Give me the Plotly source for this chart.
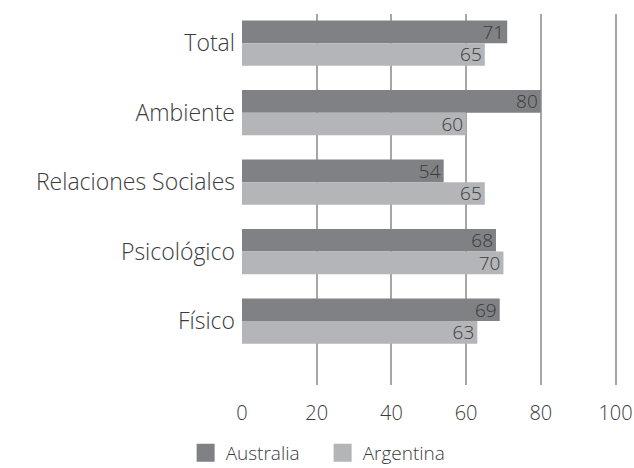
import plotly.graph_objects as go

categories = ["Total", "Ambiente", "Relaciones Sociales", "Psicológico", "Físico"]
australia = [71, 80, 54, 68, 69]
argentina = [65, 60, 65, 70, 63]
x_ticks = [0, 20, 40, 60, 80, 100]

FONT = "Open Sans"
TEXT = "#3b3b3b"
series = [("Australia", australia, "#808184"),
          ("Argentina", argentina, "#b4b5b8")]

fig = go.Figure()
for name, vals, color in series:
    fig.add_trace(go.Bar(
        y=categories, x=vals, name=name, orientation="h", showlegend=False,
        marker=dict(color=color, line=dict(width=0)),
        text=[str(v) for v in vals], textposition="inside", textangle=0,
        insidetextanchor="end", constraintext="none",
        textfont=dict(family=FONT, size=19, color=TEXT, weight=300),
    ))
# square legend keys
for name, vals, color in series:
    fig.add_trace(go.Scatter(
        x=[None], y=[None], name=name, mode="markers", showlegend=True,
        marker=dict(symbol="square", size=16, color=color,
                    line=dict(color=color, width=2)),
    ))

fig.update_layout(
    width=634, height=468,
    margin=dict(l=242, r=17, t=14, b=83, autoexpand=False),
    paper_bgcolor="white", plot_bgcolor="white",
    barmode="group", bargap=0.35, bargroupgap=0,
    font=dict(family=FONT, color=TEXT, size=18, weight=300),
    showlegend=True,
    legend=dict(orientation="h", x=0.215, xanchor="center", y=-0.183, yanchor="middle",
                font=dict(family=FONT, size=19, color=TEXT, weight=300),
                entrywidth=92, traceorder="normal", tracegroupgap=0),
    xaxis=dict(range=[0, 100.4], tickvals=x_ticks, ticktext=[str(v) for v in x_ticks],
               showgrid=True, gridcolor="#a6a6a6", gridwidth=1.5,
               zeroline=False, showline=False, ticks="", automargin=False,
               ticklabelstandoff=14,
               tickfont=dict(family=FONT, size=20, color=TEXT, weight=300)),
    yaxis=dict(type="category", categoryorder="array", categoryarray=categories,
               range=[4.92, -0.42], showgrid=False, zeroline=False, showline=False,
               ticks="", ticklabelstandoff=6, automargin=False,
               tickfont=dict(family=FONT, size=23, color=TEXT, weight=300)),
)

fig.write_html("out.html")
